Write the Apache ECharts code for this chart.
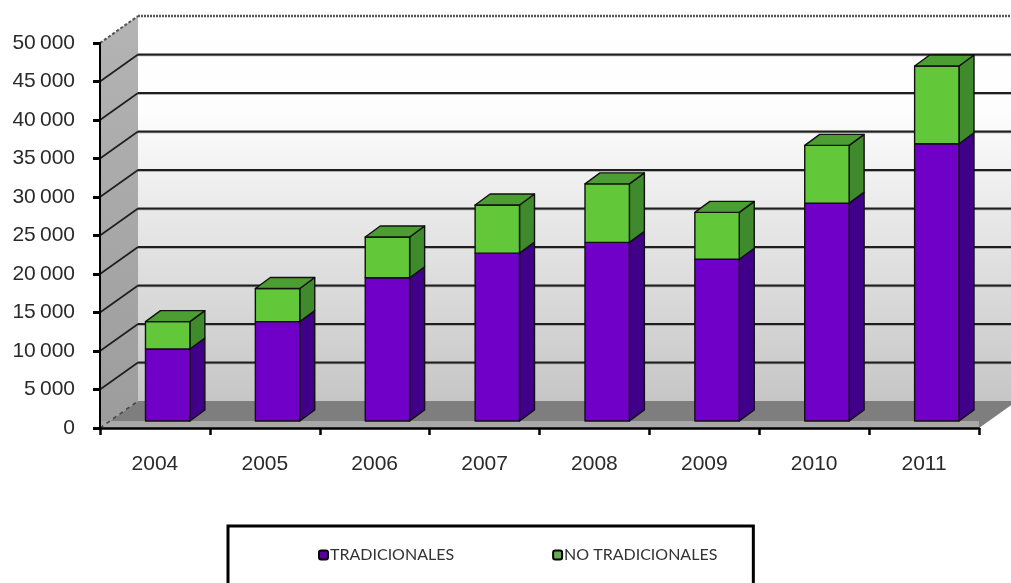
<!DOCTYPE html>
<html>
<head>
<meta charset="utf-8">
<script src="https://cdn.jsdelivr.net/npm/echarts@6/dist/echarts.min.js"></script>
<style>
html,body{margin:0;padding:0;background:#fff;}
#chart{width:1011px;height:583px;}
</style>
</head>
<body>
<div id="chart"></div>
<script>
const categories = ['2004', '2005', '2006', '2007', '2008', '2009', '2010', '2011'];
const tradicionales = [9350, 12900, 18600, 21800, 23200, 21000, 28300, 36000];
const noTradicionales = [3550, 4300, 5300, 6250, 7600, 6100, 7500, 10100];
const seriesNames = ['TRADICIONALES', 'NO TRADICIONALES'];
const yMin = 0, yMax = 50000, yStep = 5000;

// 3D look parameters (pixels)
const WALL_DX = 38, WALL_DY = -27;
const BAR_OY = -7, BAR_DX = 15, BAR_DY = -11;

const fmt = v => String(v).replace(/\B(?=(\d{3})+(?!\d))/g, '\u2009');

function wallsRender(params, api) {
  const bw = api.size([1, 0])[0];
  const c0 = api.coord([0, yMin]);
  const xL = c0[0] - bw / 2;
  const xR = xL + categories.length * bw;
  const y0 = c0[1];
  const yTop = api.coord([0, yMax])[1];
  const children = [];
  // side wall
  children.push({type: 'polygon', shape: {points: [[xL, y0], [xL + WALL_DX, y0 + WALL_DY], [xL + WALL_DX, yTop + WALL_DY], [xL, yTop]]},
    style: {fill: {type: 'linear', x: 0, y: 0, x2: 0, y2: 1, colorStops: [{offset: 0, color: '#b4b4b4'}, {offset: 1, color: '#9c9c9c'}]}}});
  // back wall
  children.push({type: 'rect', shape: {x: xL + WALL_DX, y: yTop + WALL_DY, width: xR - xL, height: y0 - yTop},
    style: {fill: {type: 'linear', x: 0, y: 0, x2: 0, y2: 1, colorStops: [{offset: 0, color: '#ffffff'}, {offset: 0.25, color: '#fdfdfd'}, {offset: 0.55, color: '#e6e6e6'}, {offset: 1, color: '#c6c6c6'}]}}});
  // floor
  children.push({type: 'polygon', shape: {points: [[xL, y0], [xL + WALL_DX, y0 + WALL_DY], [xR + WALL_DX, y0 + WALL_DY], [xR, y0]]},
    style: {fill: '#7e7e7e'}});
  children.push({type: 'rect', shape: {x: xL, y: y0 + BAR_OY, width: xR - xL, height: -BAR_OY}, style: {fill: '#a8a8a8'}});
  // grid lines
  for (let v = yMin + yStep; v < yMax; v += yStep) {
    const y = api.coord([0, v])[1];
    children.push({type: 'line', shape: {x1: xL + WALL_DX, y1: y + WALL_DY + 1, x2: xR + WALL_DX, y2: y + WALL_DY + 1}, style: {stroke: '#9a9a9a', lineWidth: 1.5}});
    children.push({type: 'line', shape: {x1: xL + WALL_DX, y1: y + WALL_DY, x2: xR + WALL_DX, y2: y + WALL_DY}, style: {stroke: '#1e1e1e', lineWidth: 2}});
    children.push({type: 'line', shape: {x1: xL, y1: y, x2: xL + WALL_DX, y2: y + WALL_DY}, style: {stroke: '#1e1e1e', lineWidth: 1.6}});
  }
  // top edges (dashed)
  children.push({type: 'line', shape: {x1: xL + WALL_DX, y1: yTop + WALL_DY, x2: xR + WALL_DX, y2: yTop + WALL_DY}, style: {stroke: '#555', lineWidth: 2.5, lineDash: [2, 1]}});
  children.push({type: 'line', shape: {x1: xL, y1: yTop, x2: xL + WALL_DX, y2: yTop + WALL_DY}, style: {stroke: '#555', lineWidth: 2, lineDash: [3, 2]}});
  children.push({type: 'line', shape: {x1: xL, y1: y0, x2: xL + WALL_DX, y2: y0 + WALL_DY}, style: {stroke: '#444', lineWidth: 1.5, lineDash: [4, 4]}});
  return {type: 'group', children: children};
}

function barRender(colors, withTop) {
  return function (params, api) {
    const i = api.value(0);
    const p0 = api.coord([i, api.value(1)]);
    const p1 = api.coord([i, api.value(2)]);
    const bw = api.size([1, 0])[0];
    const L = p0[0] - 0.086 * bw;
    const R = p0[0] + 0.318 * bw;
    const yb = p0[1] + BAR_OY;
    const yt = p1[1] + BAR_OY;
    const st = {stroke: '#111', lineWidth: 1.4, lineJoin: 'round'};
    const children = [
      {type: 'polygon', shape: {points: [[R, yb], [R + BAR_DX, yb + BAR_DY], [R + BAR_DX, yt + BAR_DY], [R, yt]]}, style: Object.assign({fill: colors.side}, st)},
      {type: 'rect', shape: {x: L, y: yt, width: R - L, height: yb - yt}, style: Object.assign({fill: colors.front}, st)}
    ];
    if (withTop) {
      children.push({type: 'polygon', shape: {points: [[L, yt], [L + BAR_DX, yt + BAR_DY], [R + BAR_DX, yt + BAR_DY], [R, yt]]}, style: Object.assign({fill: colors.top}, st)});
    }
    return {type: 'group', children: children};
  };
}

const tradData = categories.map((c, i) => [i, 0, tradicionales[i]]);
const noTradData = categories.map((c, i) => [i, tradicionales[i], tradicionales[i] + noTradicionales[i]]);

const chart = echarts.init(document.getElementById('chart'), null, {renderer: 'canvas'});
chart.setOption({
  animation: false,
  backgroundColor: '#ffffff',
  grid: {left: 100, right: 32, top: 43, bottom: 155},
  xAxis: {
    type: 'category', data: categories, z: 10,
    axisLine: {lineStyle: {color: '#000', width: 2.5}},
    axisTick: {show: true, length: 7, lineStyle: {color: '#000', width: 2.5}},
    axisLabel: {fontFamily: 'Liberation Sans', fontSize: 21, color: '#2a2a2a', margin: 26}
  },
  yAxis: {
    type: 'value', min: yMin, max: yMax, interval: yStep, z: 10,
    splitLine: {show: false},
    axisLine: {show: true, lineStyle: {color: '#000', width: 2}},
    axisTick: {show: true, length: 7, lineStyle: {color: '#000', width: 3}},
    axisLabel: {fontFamily: 'Liberation Sans', fontSize: 21, color: '#2a2a2a', margin: 25, formatter: fmt}
  },
  legend: {
    data: seriesNames,
    left: 228, top: 526,
    padding: [21, 36, 40, 90],
    itemGap: 98,
    itemWidth: 9, itemHeight: 9,
    icon: 'roundRect',
    borderColor: '#000', borderWidth: 3,
    textStyle: {fontFamily: 'Lato', fontSize: 16, color: '#333', padding: [0, 0, 0, -3]},
    selectedMode: false
  },
  series: [
    {type: 'custom', name: 'walls', renderItem: wallsRender, data: [[0, 0, 0]], clip: false, silent: true, z: 1},
    {type: 'custom', name: seriesNames[0], renderItem: barRender({front: '#7000c8', side: '#40008a', top: '#5a00a8'}, false),
      data: tradData, clip: false, z: 3, encode: {x: 0, y: [1, 2]},
      itemStyle: {color: '#5a0096', borderColor: '#000', borderWidth: 1}},
    {type: 'custom', name: seriesNames[1], renderItem: barRender({front: '#62c83a', side: '#3f8a2c', top: '#4c9e32'}, true),
      data: noTradData, clip: false, z: 4, encode: {x: 0, y: [1, 2]},
      itemStyle: {color: '#6aa85a', borderColor: '#000', borderWidth: 1}}
  ]
});
</script>
</body>
</html>
